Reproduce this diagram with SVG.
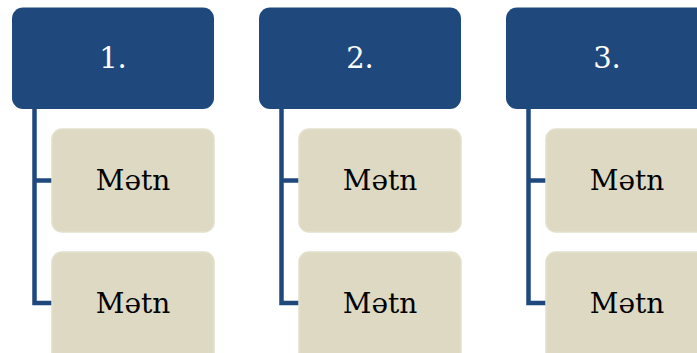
<svg xmlns="http://www.w3.org/2000/svg" width="697" height="353" viewBox="0 0 697 353">
<style>
.h{fill:#1f497d}
.c{fill:#ddd9c3;stroke:#e2dfcc;stroke-width:1.5}
.ln{fill:none;stroke:#1f497d;stroke-width:4.5}
.th{font-family:"DejaVu Serif",serif;font-size:29px;fill:#ffffff;text-anchor:middle}
.tc{font-family:"DejaVu Serif",serif;font-size:28px;fill:#000000;text-anchor:middle}
</style>
<rect width="697" height="353" fill="#ffffff"/>
<g id="connectors">
<path class="ln" d="M34.5 108 V303 H52 M34.5 180.5 H52"/>
<path class="ln" d="M281.5 108 V303 H299 M281.5 180.5 H299"/>
<path class="ln" d="M528.5 108 V303 H546 M528.5 180.5 H546"/>
</g>
<g id="h1"><rect class="h" x="12" y="7.5" width="202" height="101.5" rx="11"/><text class="th" x="113" y="68">1.</text></g>
<g id="h2"><rect class="h" x="259" y="7.5" width="202" height="101.5" rx="11"/><text class="th" x="360" y="68">2.</text></g>
<g id="h3"><rect class="h" x="506" y="7.5" width="202" height="101.5" rx="11"/><text class="th" x="607" y="68">3.</text></g>
<g id="c1a"><rect class="c" x="52" y="129" width="162" height="103" rx="10"/><text class="tc" x="133" y="190">Mətn</text></g>
<g id="c1b"><rect class="c" x="52" y="252" width="162" height="110" rx="10"/><text class="tc" x="133" y="313">Mətn</text></g>
<g id="c2a"><rect class="c" x="299" y="129" width="162" height="103" rx="10"/><text class="tc" x="380" y="190">Mətn</text></g>
<g id="c2b"><rect class="c" x="299" y="252" width="162" height="110" rx="10"/><text class="tc" x="380" y="313">Mətn</text></g>
<g id="c3a"><rect class="c" x="546" y="129" width="162" height="103" rx="10"/><text class="tc" x="627" y="190">Mətn</text></g>
<g id="c3b"><rect class="c" x="546" y="252" width="162" height="110" rx="10"/><text class="tc" x="627" y="313">Mətn</text></g>
</svg>
